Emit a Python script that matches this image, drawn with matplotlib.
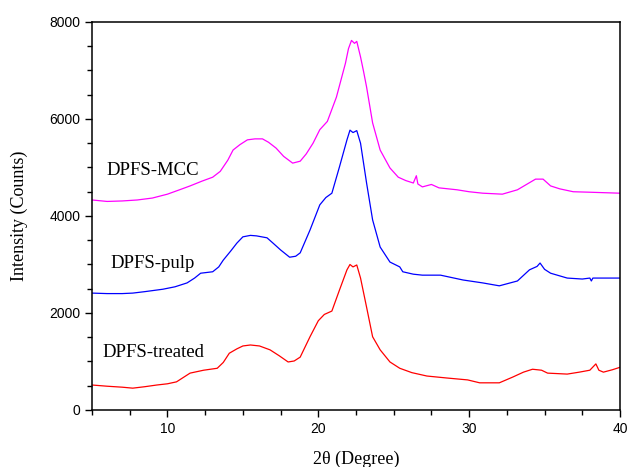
import matplotlib
matplotlib.use("Agg")
import matplotlib.pyplot as plt
from matplotlib.ticker import MultipleLocator

# XRD patterns
mcc_x = [5, 6, 7, 8, 9, 10, 10.8, 11.5, 12.3, 13.0, 13.5, 14.0, 14.35, 14.8, 15.3,
         15.8, 16.3, 16.7, 17.2, 17.7, 18.3, 18.8, 19.2, 19.65, 20.1, 20.6, 21.2,
         21.5, 21.8, 22.0, 22.2, 22.4, 22.55, 22.8, 23.0, 23.2, 23.6, 24.1, 24.75,
         25.3, 25.8, 26.3, 26.5, 26.6, 26.9, 27.5, 28.0, 29.2, 30.0, 30.9, 32.2,
         33.2, 33.8, 34.4, 34.9, 35.4, 36.0, 36.9, 38.0, 39.0, 40]
mcc_y = [4330, 4300, 4310, 4330, 4370, 4450, 4540, 4620, 4720, 4800, 4920, 5150, 5360,
         5470, 5570, 5590, 5590, 5520, 5400, 5230, 5090, 5130, 5280, 5500, 5780, 5950,
         6450, 6800, 7150, 7450, 7620, 7560, 7600, 7280, 6980, 6660, 5920, 5360, 4990,
         4800, 4730, 4680, 4830, 4660, 4600, 4650, 4580, 4540, 4500, 4470, 4450, 4540,
         4650, 4760, 4760, 4620, 4560, 4500, 4490, 4480, 4470]

pulp_x = [5, 6, 7, 7.7, 8.5, 9.7, 10.5, 11.3, 11.8, 12.2, 13.0, 13.4, 13.7, 14.2, 14.6,
          15.0, 15.5, 15.9, 16.6, 17.0, 17.5, 18.1, 18.5, 18.8, 19.45, 20.1, 20.5,
          20.9, 21.4, 21.9, 22.1, 22.3, 22.55, 22.8, 23.2, 23.6, 24.1, 24.75, 25.4,
          25.6, 26.3, 26.9, 28.1, 29.6, 30.9, 32.0, 33.2, 34.0, 34.5, 34.7, 35.0,
          35.4, 36.5, 37.5, 38.0, 38.1, 38.2, 39.0, 40]
pulp_y = [2410, 2400, 2400, 2410, 2440, 2490, 2540, 2620, 2720, 2820, 2850, 2950, 3090,
          3280, 3440, 3570, 3600, 3590, 3550, 3440, 3300, 3150, 3170, 3240, 3710, 4230,
          4380, 4470, 5010, 5570, 5770, 5720, 5760, 5500, 4680, 3920, 3360, 3050, 2950,
          2850, 2800, 2780, 2780, 2680, 2620, 2560, 2660, 2890, 2960, 3030, 2900, 2820,
          2720, 2700, 2720, 2660, 2720, 2720, 2720]

treated_x = [5, 6, 7, 7.7, 8.5, 9.3, 10.0, 10.6, 11.5, 12.4, 13.3, 13.7, 14.1, 14.6,
             15.0, 15.5, 16.1, 16.8, 17.4, 18.0, 18.4, 18.8, 19.45, 20.0, 20.4, 20.9,
             21.4, 21.9, 22.1, 22.3, 22.55, 22.8, 23.2, 23.6, 24.1, 24.75, 25.4, 26.2,
             27.2, 28.5, 29.9, 30.7, 32.0, 32.9, 33.6, 34.2, 34.8, 35.2, 36.5, 37.3,
             38.0, 38.4, 38.6, 38.9, 39.5, 40]
treated_y = [515, 490, 470, 450, 480, 515, 540, 580, 760, 820, 860, 980, 1170, 1260,
             1320, 1340, 1320, 1240, 1120, 990, 1010, 1090, 1510, 1840, 1970, 2040,
             2470, 2890, 3000, 2950, 2990, 2720, 2120, 1510, 1240, 990, 860, 770, 700,
             660, 620, 560, 560, 680, 780, 840, 820, 760, 740, 780, 820, 950, 820, 780,
             830, 880]

labels = ["DPFS-MCC", "DPFS-pulp", "DPFS-treated"]
label_pos = [(5.93, 4846), (6.19, 2928), (5.66, 1093)]

serif = "Liberation Serif"
sans = "Liberation Sans"

fig = plt.figure(figsize=(6.29, 4.67), dpi=100)
ax = fig.add_axes([0.1463, 0.1221, 0.8394, 0.8308])

ax.plot(mcc_x, mcc_y, color="#FF00FF", lw=0.9)
ax.plot(pulp_x, pulp_y, color="#0000FF", lw=0.9)
ax.plot(treated_x, treated_y, color="#FF0000", lw=0.9)

for txt, (tx, ty) in zip(labels, label_pos):
    ax.text(tx, ty, txt, family=serif, fontsize=13.5, va="baseline", ha="left")

ax.set_xlim(5, 40)
ax.set_ylim(0, 8000)
ax.xaxis.set_major_locator(MultipleLocator(10))
ax.xaxis.set_minor_locator(MultipleLocator(2.5))
ax.yaxis.set_major_locator(MultipleLocator(2000))
ax.yaxis.set_minor_locator(MultipleLocator(500))
ax.tick_params(which="major", direction="out", length=5, width=1, pad=3.5, labelsize=10)
ax.tick_params(which="minor", direction="out", length=3.5, width=1)
for lab in ax.get_xticklabels() + ax.get_yticklabels():
    lab.set_family(sans)

ax.set_xlabel("2θ (Degree)", family=serif, fontsize=13, labelpad=11)
ax.set_ylabel("Intensity (Counts)", family=serif, fontsize=13, labelpad=15)

for sp in ax.spines.values():
    sp.set_linewidth(1.1)

fig.savefig("out.png", dpi=100)
